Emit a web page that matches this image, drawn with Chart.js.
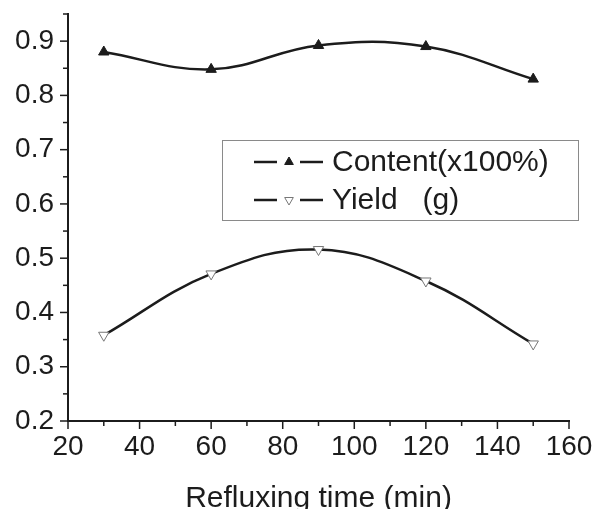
<!DOCTYPE html>
<html>
<head>
<meta charset="utf-8">
<script src="https://cdn.jsdelivr.net/npm/chart.js"></script>
<style>
  html, body { margin: 0; padding: 0; background: #fff; }
  #wrap { width: 597px; height: 509px; position: relative; }
</style>
</head>
<body>
<div id="wrap"><canvas id="chart"></canvas></div>
<script>
// ── data ──
const times = [30, 60, 90, 120, 150];
const content = [0.880, 0.848, 0.892, 0.890, 0.830];
const yieldG = [0.358, 0.471, 0.516, 0.458, 0.342];
const seriesNames = ['Content(x100%)', 'Yield   (g)'];

const ink = '#1c1c1c';
const fontFam = '"Liberation Sans", Arial, sans-serif';

// major/minor tick marks drawn outward, Origin style
const tickMarks = {
  id: 'tickMarks',
  afterDraw(chart) {
    const ctx = chart.ctx;
    ctx.save();
    ctx.strokeStyle = ink;
    ctx.lineWidth = 1.5;
    const xs = chart.scales.x, ys = chart.scales.y;
    xs.ticks.forEach(t => {
      const px = xs.getPixelForValue(t.value);
      const len = t.value % 20 === 0 ? 8 : 5;
      ctx.beginPath(); ctx.moveTo(px, xs.top); ctx.lineTo(px, xs.top + len); ctx.stroke();
    });
    ys.ticks.forEach(t => {
      const py = ys.getPixelForValue(t.value);
      const major = Math.abs(t.value * 10 - Math.round(t.value * 10)) < 1e-6;
      const len = major ? 8 : 5;
      ctx.beginPath(); ctx.moveTo(ys.right, py); ctx.lineTo(ys.right - len, py); ctx.stroke();
    });
    ctx.restore();
  }
};

// boxed legend inside the plot: line - marker - line, then text
const boxLegend = {
  id: 'boxLegend',
  afterDraw(chart) {
    const ctx = chart.ctx;
    const x0 = 222, y0 = 140, w = 356, h = 80;
    ctx.save();
    ctx.fillStyle = '#fff';
    ctx.fillRect(x0, y0, w, h);
    ctx.strokeStyle = '#8a8a8a';
    ctx.lineWidth = 1;
    ctx.strokeRect(x0 + 0.5, y0 + 0.5, w, h);
    const rows = [y0 + 22, y0 + 60];
    chart.data.datasets.forEach((ds, i) => {
      const y = rows[i];
      ctx.strokeStyle = ink;
      ctx.lineWidth = 2.5;
      ctx.beginPath(); ctx.moveTo(x0 + 32, y); ctx.lineTo(x0 + 55, y); ctx.stroke();
      ctx.beginPath(); ctx.moveTo(x0 + 78, y); ctx.lineTo(x0 + 101, y); ctx.stroke();
      ctx.fillStyle = ds.pointBackgroundColor;
      ctx.strokeStyle = ds.pointBorderColor;
      ctx.lineWidth = 1;
      Chart.helpers.drawPoint(ctx, {
        pointStyle: 'triangle', radius: 5, rotation: ds.pointRotation,
        borderWidth: 1
      }, x0 + 67, y);
      ctx.fillStyle = ink;
      ctx.font = '30px ' + fontFam;
      ctx.textBaseline = 'middle';
      ctx.fillText(ds.label, x0 + 110, y + 1);
    });
    ctx.restore();
  }
};

new Chart(document.getElementById('chart'), {
  type: 'line',
  data: {
    datasets: [
      {
        label: seriesNames[0],
        data: times.map((t, i) => ({ x: t, y: content[i] })),
        borderColor: ink, borderWidth: 2.5, tension: 0.4,
        pointStyle: 'triangle', pointRadius: 6, pointRotation: 0,
        pointBackgroundColor: ink, pointBorderColor: ink, pointBorderWidth: 1
      },
      {
        label: seriesNames[1],
        data: times.map((t, i) => ({ x: t, y: yieldG[i] })),
        borderColor: ink, borderWidth: 2.5, tension: 0.4,
        pointStyle: 'triangle', pointRadius: 6, pointRotation: 180,
        pointBackgroundColor: '#fff', pointBorderColor: '#777', pointBorderWidth: 1
      }
    ]
  },
  options: {
    responsive: true,
    maintainAspectRatio: false,
    animation: false,
    layout: { padding: { top: 14, right: 28, left: 0, bottom: 0 } },
    plugins: { legend: { display: false }, tooltip: { enabled: false } },
    scales: {
      x: {
        type: 'linear', min: 20, max: 160,
        afterFit: s => { s.height = 88; s.paddingLeft = 0; s.paddingRight = 0; },
        border: { display: true, color: ink, width: 2 },
        grid: { display: true, drawOnChartArea: false, drawTicks: false },
        ticks: {
          stepSize: 10, autoSkip: false, maxRotation: 0, padding: 9, color: ink,
          font: { family: fontFam, size: 28 },
          callback: v => (v % 20 === 0 ? String(v) : '')
        },
        title: {
          display: true, text: 'Refluxing time (min)', color: ink,
          font: { family: fontFam, size: 30 }, padding: { top: 0, bottom: -8 }
        }
      },
      y: {
        min: 0.2, max: 0.95,
        afterFit: s => { s.width = 68; s.paddingTop = 0; s.paddingBottom = 0; },
        border: { display: true, color: ink, width: 2 },
        grid: { display: true, drawOnChartArea: false, drawTicks: false },
        ticks: {
          stepSize: 0.05, autoSkip: false, padding: 14, color: ink,
          font: { family: fontFam, size: 28 },
          callback: v => (Math.abs(v * 10 - Math.round(v * 10)) < 1e-6 ? v.toFixed(1) : '')
        }
      }
    }
  },
  plugins: [tickMarks, boxLegend]
});
</script>
</body>
</html>
